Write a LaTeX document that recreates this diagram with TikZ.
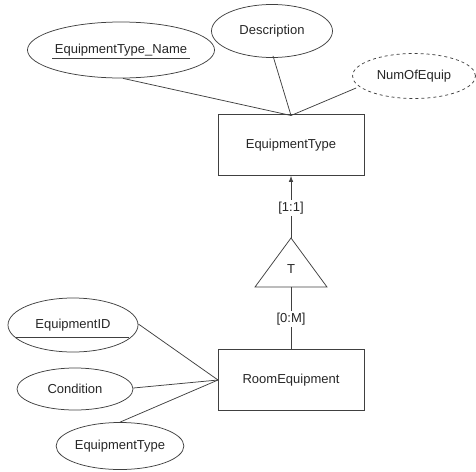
\documentclass[tikz,border=0pt]{standalone}
\usepackage{fontspec}
\setmainfont{Liberation Sans}
\usetikzlibrary{shapes.geometric,arrows.meta}
\begin{document}
\begin{tikzpicture}[x=1pt,y=-1pt,
  every node/.style={font=\fontsize{13}{15}\selectfont, text=black!85},
  ln/.style={draw=black!75, line width=0.75pt},
  attr/.style={ln, ellipse, inner sep=0pt},
  ent/.style={ln, rectangle, minimum width=146pt, minimum height=61pt, inner sep=0pt},
  lbl/.style={fill=white, inner sep=1.5pt}
]
\useasboundingbox (0,0) rectangle (476,471);

% entities
\node[ent] (et) at (291,145) {EquipmentType};
\node[ent] (re) at (291,380) {RoomEquipment};

% attributes of EquipmentType
\node[attr, minimum width=157pt, minimum height=56pt] (etn) at (121,50) {EquipmentType\_Name};
\node[attr, minimum width=121pt, minimum height=53pt] (desc) at (272,31) {Description};
\node[attr, dashed, minimum width=123pt, minimum height=45pt] (num) at (414,76) {NumOfEquip};
\draw[ln] (52,58.5) -- (190,58.5);

\coordinate (ettop) at (291,115.5);
\draw[ln] (etn.south) ++(2,0) coordinate (etnp) -- (ettop);
\draw[ln] (desc.south) ++(1,-2) coordinate (descp) -- (ettop);
\draw[ln] (num.west) ++(4,12) coordinate (nump) -- (ettop);

% triangle
\coordinate (apex) at (291,238);
\coordinate (bl) at (255,287);
\coordinate (br) at (327,287);
\coordinate (basem) at (291,287);
\draw[ln] (apex) -- (br) -- (bl) -- cycle;
\node (T) at (291,269) {T};

\draw[ln, -{Latex[length=6pt,width=4.5pt]}] (apex) -- (et.south);
\node[lbl] at (291,208) {[1:1]};
\draw[ln] (basem) -- (re.north);
\node[lbl] at (291,319) {[0:M]};

% attributes of RoomEquipment
\node[attr, minimum width=130pt, minimum height=54pt] (eid) at (73,325) {EquipmentID};
\draw[ln] (16,337) -- (129,337);
\node[attr, minimum width=116pt, minimum height=42pt] (cond) at (75,389) {Condition};
\node[attr, minimum width=126pt, minimum height=47pt] (etyp) at (120,446) {EquipmentType};

\coordinate (rewest) at (218,380);
\draw[ln] (eid.east) ++(0,-1) -- (rewest);
\draw[ln] (cond.east) ++(0,-1) -- (rewest);
\draw[ln] (etyp.north) -- (rewest);
\end{tikzpicture}
\end{document}
